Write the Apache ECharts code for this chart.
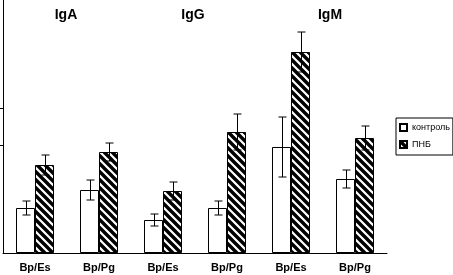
<!DOCTYPE html>
<html>
<head>
<meta charset="utf-8">
<script src="https://cdn.jsdelivr.net/npm/echarts@6/dist/echarts.min.js"></script>
<style>
  html, body { margin: 0; padding: 0; background: #fff; }
  #chart { width: 453px; height: 275px; }
</style>
</head>
<body>
<div id="chart"></div>
<script>
  // данные (условные единицы)
  var categories = ['Bp/Es', 'Bp/Pg', 'Bp/Es', 'Bp/Pg', 'Bp/Es', 'Bp/Pg'];
  var groupTitles = ['IgA', 'IgG', 'IgM'];
  var controlValues = [45, 63, 33, 45, 106, 74];
  var controlErrors = [7, 10, 6, 7, 30, 9];
  var pnbValues = [88, 101, 62, 121, 201, 115];
  var pnbErrors = [10, 9, 9, 18, 20, 12];
  var yTicks = [108, 145];

  // штриховка
  var hatch = document.createElement('canvas');
  hatch.width = 8;
  hatch.height = 8;
  var ctx = hatch.getContext('2d');
  ctx.fillStyle = '#fff';
  ctx.fillRect(0, 0, 8, 8);
  ctx.strokeStyle = '#000';
  ctx.lineWidth = 3.4;
  ctx.beginPath();
  ctx.moveTo(-2, -2); ctx.lineTo(10, 10);
  ctx.moveTo(-10, -2); ctx.lineTo(2, 10);
  ctx.moveTo(6, -2); ctx.lineTo(18, 10);
  ctx.stroke();

  function errorSeries(values, errors, offset) {
    var data = [];
    for (var i = 0; i < values.length; i++) {
      data.push([i, values[i] - errors[i], values[i] + errors[i]]);
    }
    return {
      type: 'custom',
      silent: true,
      z: 10,
      data: data,
      renderItem: function (params, api) {
        var lo = api.coord([api.value(0), api.value(1)]);
        var hi = api.coord([api.value(0), api.value(2)]);
        var x = Math.round(lo[0] + offset) + 0.5;
        var style = { stroke: '#000', lineWidth: 1 };
        return {
          type: 'group',
          children: [
            { type: 'line', shape: { x1: x, y1: hi[1], x2: x, y2: lo[1] }, style: style },
            { type: 'line', shape: { x1: x - 4, y1: hi[1], x2: x + 4, y2: hi[1] }, style: style },
            { type: 'line', shape: { x1: x - 4, y1: lo[1], x2: x + 4, y2: lo[1] }, style: style }
          ]
        };
      }
    };
  }

  var chart = echarts.init(document.getElementById('chart'));
  var option = {
    animation: false,
    textStyle: { fontFamily: 'Liberation Sans' },
    grid: { left: 3, top: 0, width: 384, height: 253 },
    legend: {
      orient: 'vertical',
      left: 396,
      top: 118,
      icon: 'rect',
      itemWidth: 7,
      itemHeight: 7,
      itemGap: 8,
      padding: [5, 3, 6, 3],
      borderColor: '#000',
      borderWidth: 1,
      borderRadius: 0,
      textStyle: { fontSize: 9, color: '#000' },
      data: ['контроль', 'ПНБ']
    },
    graphic: groupTitles.map(function (t, i) {
      return {
        type: 'text',
        x: [66, 193, 330][i],
        y: 15,
        style: {
          text: t,
          font: 'bold 14px Liberation Sans',
          fill: '#000',
          textAlign: 'center',
          textVerticalAlign: 'middle'
        }
      };
    }),
    xAxis: {
      type: 'category',
      data: categories,
      axisLine: { lineStyle: { color: '#000', width: 1 } },
      axisTick: { length: 3, lineStyle: { color: '#000' } },
      axisLabel: { color: '#000', fontSize: 11, fontWeight: 'bold', margin: 9 }
    },
    yAxis: {
      type: 'value',
      min: 0,
      max: 253,
      axisLine: { show: true, lineStyle: { color: '#000', width: 1 } },
      axisTick: { show: true, length: 3, customValues: yTicks, lineStyle: { color: '#000' } },
      axisLabel: { show: false },
      splitLine: { show: false }
    },
    series: [
      {
        name: 'контроль',
        type: 'bar',
        data: controlValues,
        barWidth: 19,
        barGap: '0%',
        itemStyle: { color: '#fff', borderColor: '#000', borderWidth: 1 }
      },
      {
        name: 'ПНБ',
        type: 'bar',
        data: pnbValues,
        barWidth: 19,
        barGap: '0%',
        itemStyle: { color: { image: hatch, repeat: 'repeat' }, borderColor: '#000', borderWidth: 1 }
      },
      errorSeries(controlValues, controlErrors, -9.5),
      errorSeries(pnbValues, pnbErrors, 9.5)
    ]
  };
  chart.setOption(option);
</script>
</body>
</html>
